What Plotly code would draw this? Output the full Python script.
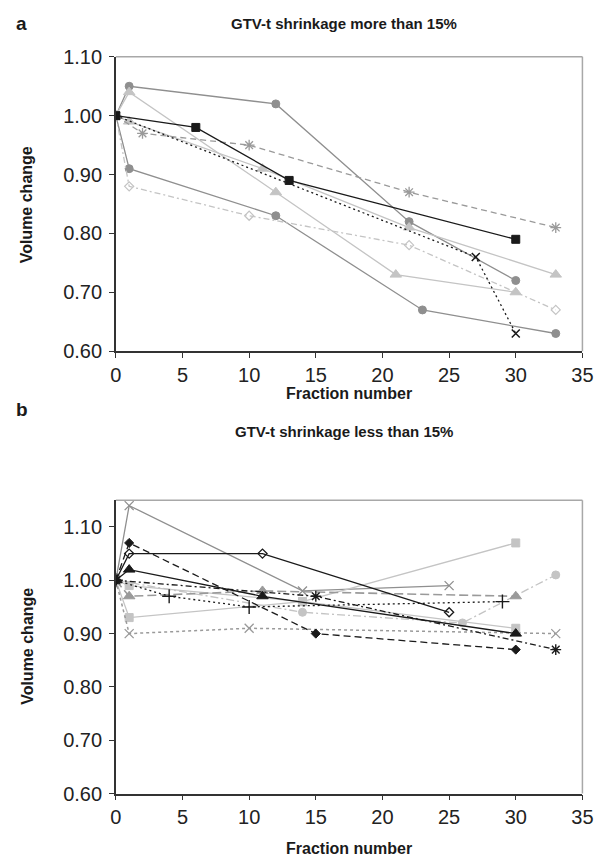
import plotly.graph_objects as go

# ---------------- Data: panel a (shrinkage > 15%) ----------------
a1_x = [0, 1, 12, 22, 30]
a1_y = [1.00, 1.05, 1.02, 0.82, 0.72]
a2_x = [0, 1, 12, 23, 33]
a2_y = [1.00, 0.91, 0.83, 0.67, 0.63]
a3_x = [0, 6, 13, 30]
a3_y = [1.00, 0.98, 0.89, 0.79]
a4_x = [0, 1, 12, 21, 30]
a4_y = [1.00, 1.04, 0.87, 0.73, 0.70]
a5_x = [0, 1, 11, 22, 33]
a5_y = [1.00, 0.99, 0.91, 0.81, 0.73]
a6_x = [0, 2, 10, 22, 33]
a6_y = [1.00, 0.97, 0.95, 0.87, 0.81]
a7_x = [0, 1, 10, 22, 33]
a7_y = [1.00, 0.88, 0.83, 0.78, 0.67]
a8_x = [0, 27, 30]
a8_y = [1.00, 0.76, 0.63]

# ---------------- Data: panel b (shrinkage < 15%) ----------------
b1_x = [0, 1, 14, 25]
b1_y = [1.00, 1.14, 0.98, 0.99]
b2_x = [0, 1, 15, 30]
b2_y = [1.00, 1.07, 0.90, 0.87]
b3_x = [0, 1, 11, 25]
b3_y = [1.00, 1.05, 1.05, 0.94]
b4_x = [0, 1, 11, 30]
b4_y = [1.00, 1.02, 0.97, 0.90]
b5_x = [0, 1, 11, 30]
b5_y = [1.00, 0.97, 0.98, 0.97]
b6_x = [0, 1, 14, 30]
b6_y = [1.00, 0.93, 0.96, 1.07]
b7_x = [0, 1, 14, 30]
b7_y = [1.00, 0.99, 0.96, 0.91]
b8_x = [0, 14, 26, 33]
b8_y = [1.00, 0.94, 0.92, 1.01]
b9_x = [0, 4, 10, 29]
b9_y = [1.00, 0.97, 0.95, 0.96]
b10_x = [0, 1, 10, 33]
b10_y = [1.00, 0.90, 0.91, 0.90]
b11_x = [0, 15, 33]
b11_y = [1.00, 0.97, 0.87]

x_ticks = [0, 5, 10, 15, 20, 25, 30, 35]
y_ticks = [0.60, 0.70, 0.80, 0.90, 1.00, 1.10]

title_a = "GTV-t shrinkage more than 15%"
title_b = "GTV-t shrinkage less than 15%"

MID = "#8f8f8f"
LIGHT = "#c4c4c4"
BLACK = "#1a1a1a"
GRAY = "#9a9a9a"

fig = go.Figure()


def add(x, y, color, dash, symbol, size, axis, width=1.3, mline=None):
    fig.add_trace(go.Scatter(
        x=x, y=y, mode="lines+markers",
        line=dict(color=color, width=width, dash=dash),
        marker=dict(symbol=symbol, size=size, color=color,
                    line=dict(color=color, width=mline if mline else 1)),
        xaxis="x" if axis == 1 else "x2",
        yaxis="y" if axis == 1 else "y2",
        showlegend=False, hoverinfo="skip"))


# panel a
add(a2_x, a2_y, MID, "solid", "circle", 8, 1)
add(a1_x, a1_y, MID, "solid", "circle", 8, 1)
add(a4_x, a4_y, LIGHT, "solid", "triangle-up", 10, 1)
add(a5_x, a5_y, LIGHT, "solid", "triangle-up", 10, 1)
add(a6_x, a6_y, GRAY, "6px,4px", "asterisk-open", 9, 1, mline=1.3)
add(a7_x, a7_y, LIGHT, "6px,3px,2px,3px", "diamond-open", 7, 1, mline=1.2)
add(a8_x, a8_y, BLACK, "2px,3px", "x-thin-open", 8, 1, mline=1.5)
add(a3_x, a3_y, BLACK, "solid", "square", 8, 1)

# panel b
add(b1_x, b1_y, MID, "solid", "x-thin-open", 9, 2, mline=1.3)
add(b8_x, b8_y, LIGHT, "8px,3px,2px,3px", "circle", 8, 2)
add(b6_x, b6_y, LIGHT, "solid", "square", 8, 2)
add(b7_x, b7_y, LIGHT, "solid", "square", 8, 2)
add(b5_x, b5_y, GRAY, "9px,4px", "triangle-up", 10, 2, width=1.6)
add(b10_x, b10_y, GRAY, "3px,3px", "x-thin-open", 9, 2, width=1.5, mline=1.3)
add(b9_x, b9_y, BLACK, "2px,3px", "cross-thin-open", 10, 2, mline=1.4)
add(b11_x, b11_y, BLACK, "6px,3px,2px,3px", "asterisk-open", 9, 2, mline=1.4)
add(b2_x, b2_y, BLACK, "7px,4px", "diamond", 7, 2)
add(b4_x, b4_y, BLACK, "solid", "triangle-up", 10, 2)
add(b3_x, b3_y, BLACK, "solid", "diamond-open", 7, 2, mline=1.3)

FONT = "Liberation Sans, Arial, sans-serif"
AX = "#333333"
FRAME = "#a8a8a8"

xd = [113 / 608, 593 / 608]
ya = [1 - 349 / 867, 1 - 47 / 867]
yb = [1 - 803 / 867, 1 - 502 / 867]

xcommon = dict(range=[0, 35], tickvals=x_ticks, showgrid=False, zeroline=False,
               showline=True, linecolor=AX, linewidth=1.5, ticks="outside",
               ticklen=5, tickwidth=1.2, tickcolor=AX, ticklabelstandoff=0,
               tickfont=dict(family=FONT, size=20, color="#222222"), domain=xd)
ycommon = dict(tickvals=y_ticks, tickformat=".2f", showgrid=False, zeroline=False,
               showline=True, linecolor=AX, linewidth=1.5, ticks="outside",
               ticklen=5, tickwidth=1.2, tickcolor=AX, ticklabelstandoff=3,
               tickfont=dict(family=FONT, size=20, color="#222222"))

fig.update_layout(
    width=608, height=867,
    margin=dict(l=0, r=0, t=0, b=0),
    paper_bgcolor="white", plot_bgcolor="white",
    xaxis=dict(**xcommon, anchor="y"),
    yaxis=dict(**ycommon, range=[0.60, 1.10], domain=ya, anchor="x"),
    xaxis2=dict(**xcommon, anchor="y2"),
    yaxis2=dict(**ycommon, range=[0.60, 1.15], domain=yb, anchor="x2"),
)

# top/right frame of plot areas
for xr, yr in (("x", "y"), ("x2", "y2")):
    fig.add_shape(type="line", xref=f"{xr} domain", yref=f"{yr} domain",
                  x0=0, x1=1, y0=1, y1=1, line=dict(color=FRAME, width=1.5), layer="below")
    fig.add_shape(type="line", xref=f"{xr} domain", yref=f"{yr} domain",
                  x0=1, x1=1, y0=0, y1=1, line=dict(color=FRAME, width=1.5), layer="below")


def ann(text, x, y, size, angle=0, xanchor="center"):
    fig.add_annotation(text=text, x=x, y=y, xref="paper", yref="paper",
                       showarrow=False, textangle=angle, xanchor=xanchor, yanchor="middle",
                       font=dict(family=FONT, size=size, color="#1a1a1a"))


ann("<b>a</b>", 8 / 608, 1 - 13 / 867, 19, xanchor="left")
ann("<b>b</b>", 8 / 608, 1 - 409 / 867, 19, xanchor="left")
ann(f"<b>{title_a}</b>", 348 / 608, 1 - 13 / 867, 15)
ann(f"<b>{title_b}</b>", 348 / 608, 1 - 431 / 867, 15)
ann("<b>Fraction number</b>", 353 / 608, 1 - 392 / 867, 16)
ann("<b>Fraction number</b>", 353 / 608, 1 - 859 / 867, 16)
ann("<b>Volume change</b>", 22 / 608, 1 - 199 / 867, 16, angle=-90)
ann("<b>Volume change</b>", 22 / 608, 1 - 652 / 867, 16, angle=-90)

fig.write_html("out.html")
